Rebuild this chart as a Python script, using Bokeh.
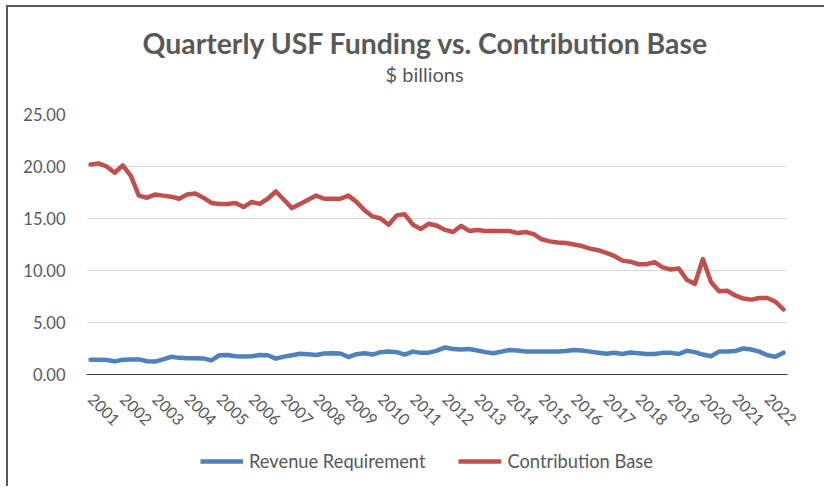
import math
from bokeh.plotting import figure
from bokeh.layouts import column
from bokeh.models import (ColumnDataSource, Range1d, FixedTicker, Legend, LegendItem,
                          Title, PrintfTickFormatter)
from bokeh.embed import file_html
from bokeh.resources import INLINE

years = [str(y) for y in range(2001, 2023)]

contribution_base = [
    20.2, 20.3, 20.0, 19.4, 20.1, 19.1, 17.2, 17.0, 17.3, 17.2,
    17.1, 16.9, 17.3, 17.4, 17.0, 16.5, 16.4, 16.4, 16.5, 16.1,
    16.6, 16.4, 16.9, 17.6, 16.8, 16.0, 16.4, 16.8, 17.2, 16.9,
    16.9, 16.9, 17.2, 16.6, 15.8, 15.2, 15.0, 14.4, 15.3, 15.4,
    14.4, 14.0, 14.5, 14.3, 13.9, 13.7, 14.3, 13.8, 13.9, 13.8,
    13.8, 13.8, 13.8, 13.6, 13.7, 13.5, 13.0, 12.8, 12.7, 12.65,
    12.5, 12.35, 12.1, 11.95, 11.7, 11.4, 10.95, 10.85, 10.6, 10.6,
    10.8, 10.3, 10.1, 10.2, 9.1, 8.7, 11.1, 8.9, 8.0, 8.05,
    7.6, 7.3, 7.2, 7.35, 7.35, 7.0, 6.25]

revenue_requirement = [
    1.43, 1.43, 1.40, 1.26, 1.42, 1.45, 1.45, 1.27, 1.24, 1.45,
    1.70, 1.60, 1.56, 1.56, 1.55, 1.36, 1.85, 1.88, 1.75, 1.72,
    1.75, 1.88, 1.85, 1.52, 1.72, 1.85, 2.00, 1.95, 1.88, 2.02,
    2.04, 2.02, 1.68, 1.95, 2.05, 1.92, 2.15, 2.22, 2.15, 1.92,
    2.20, 2.08, 2.10, 2.30, 2.60, 2.45, 2.40, 2.45, 2.30, 2.15,
    2.04, 2.20, 2.35, 2.30, 2.22, 2.20, 2.20, 2.20, 2.20, 2.25,
    2.36, 2.30, 2.20, 2.10, 2.00, 2.10, 1.97, 2.12, 2.05, 1.98,
    1.97, 2.08, 2.08, 1.97, 2.28, 2.15, 1.92, 1.75, 2.20, 2.22,
    2.25, 2.50, 2.40, 2.20, 1.85, 1.70, 2.10]

series_names = ["Revenue Requirement", "Contribution Base"]
series_cols = ["rev", "cb"]
series_colors = ["#4f81bd", "#c0504d"]

quarter_index = list(range(len(contribution_base)))
y_ticks = [0, 5, 10, 15, 20, 25]

FONT = "Lato"
TXT = "#595959"

source = ColumnDataSource(data=dict(q=quarter_index, rev=revenue_requirement, cb=contribution_base))

p = figure(frame_width=701, frame_height=260, output_backend="svg", toolbar_location=None,
           x_range=Range1d(-0.5, len(quarter_index) - 0.5), y_range=Range1d(0, 25),
           min_border_left=78, min_border_right=39, min_border_top=107, min_border_bottom=72,
           title_location=None)
p.outline_line_color = None
p.background_fill_color = "white"
p.border_fill_color = "white"

for colname, col in zip(series_cols, series_colors):
    p.line("q", colname, source=source, line_width=4.5, line_color=col,
           line_join="round", line_cap="round")

# axes
p.xaxis.ticker = FixedTicker(ticks=list(range(0, len(quarter_index), 4)))
p.xaxis.major_label_overrides = {i * 4: y for i, y in enumerate(years)}
p.xaxis.major_label_orientation = -math.pi / 4
p.xaxis.major_tick_line_color = None
p.xaxis.minor_tick_line_color = None
p.xaxis.axis_line_color = "#404040"
p.xaxis.axis_line_width = 1.2
p.xaxis.major_label_standoff = 16
p.xaxis.major_label_text_font = FONT
p.xaxis.major_label_text_font_size = "16px"
p.xaxis.major_label_text_color = TXT

p.yaxis.ticker = FixedTicker(ticks=y_ticks)
p.yaxis.formatter = PrintfTickFormatter(format="%.2f")
p.yaxis.axis_line_color = None
p.yaxis.major_tick_line_color = None
p.yaxis.minor_tick_line_color = None
p.yaxis.major_label_standoff = 15
p.yaxis.major_label_text_font = FONT
p.yaxis.major_label_text_font_size = "16.5px"
p.yaxis.major_label_text_color = TXT

p.xgrid.visible = False
p.ygrid.grid_line_color = "#d9d9d9"
p.ygrid.grid_line_width = 1.2

# titles (stacked outward from the frame: spacer, subtitle, main title)
spacer = Title(text=".", text_font_size="2px", text_color="white", standoff=26)
sub = Title(text="$ billions", align="left", offset=299, text_font=FONT,
            text_font_size="20px", text_font_style="normal", text_color=TXT, standoff=0)
main = Title(text="Quarterly USF Funding vs. Contribution Base", align="left", offset=56,
             text_font=FONT, text_font_size="28.4px", text_font_style="bold", text_color=TXT,
             standoff=0)
p.add_layout(spacer, "above")
p.add_layout(sub, "above")
p.add_layout(main, "above")

# legend strip below the chart (series drawn out of view; only their legend glyphs show)
lg = figure(width=818, height=42, output_backend="svg", toolbar_location=None,
            x_range=Range1d(1000, 1001), y_range=Range1d(1000, 1001),
            x_axis_type=None, y_axis_type=None, min_border=0)
lg.outline_line_color = None
lg.grid.visible = False
lg.border_fill_color = "white"
items = []
for name, colname, col in zip(series_names, series_cols, series_colors):
    r = lg.line("q", colname, source=source, line_width=4.5, line_color=col)
    items.append(LegendItem(label=name, renderers=[r]))
legend = Legend(items=items, orientation="horizontal", location=(114, 16),
                padding=0, margin=0, spacing=33, label_standoff=6,
                glyph_width=43, glyph_height=20, label_height=20,
                label_text_font=FONT, label_text_font_size="18.3px", label_text_color=TXT,
                border_line_color=None, background_fill_alpha=0)
lg.add_layout(legend, "center")

layout = column(p, lg, spacing=0)
layout.styles = {"margin-left": "8px", "margin-top": "7px",
                 "box-shadow": "-2px -2px 0 0 #595959"}

open("out.html", "w").write(file_html(layout, INLINE))
